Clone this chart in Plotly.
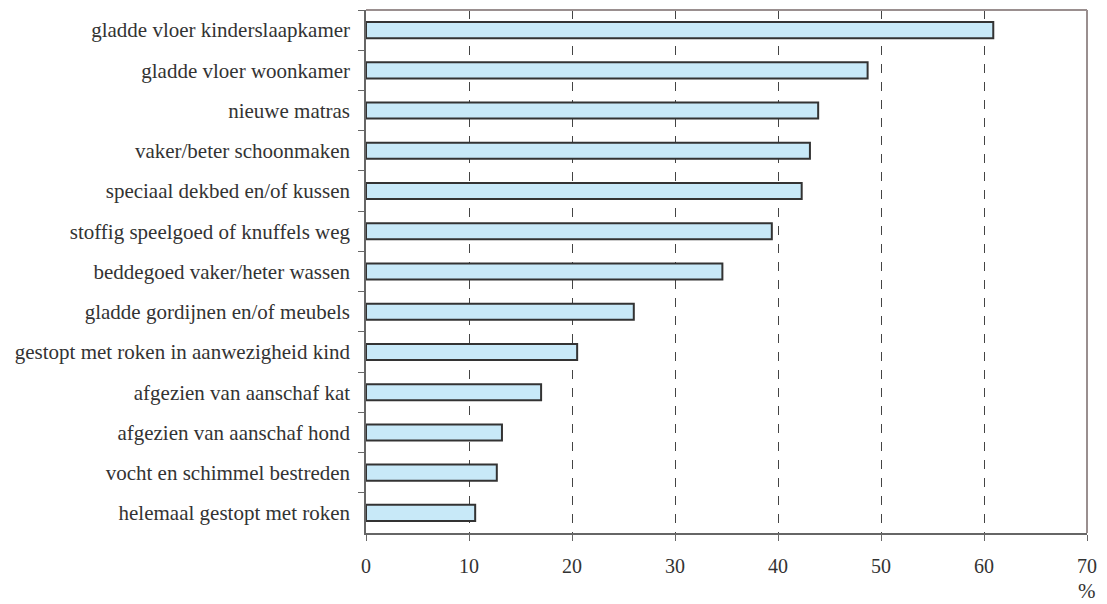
import plotly.graph_objects as go

categories = [
    "gladde vloer kinderslaapkamer",
    "gladde vloer woonkamer",
    "nieuwe matras",
    "vaker/beter schoonmaken",
    "speciaal dekbed en/of kussen",
    "stoffig speelgoed of knuffels weg",
    "beddegoed vaker/heter wassen",
    "gladde gordijnen en/of meubels",
    "gestopt met roken in aanwezigheid kind",
    "afgezien van aanschaf kat",
    "afgezien van aanschaf hond",
    "vocht en schimmel bestreden",
    "helemaal gestopt met roken",
]
values = [60.9, 48.7, 43.9, 43.1, 42.3, 39.4, 34.6, 26.0, 20.5, 17.0, 13.2, 12.7, 10.6]
x_ticks = [0, 10, 20, 30, 40, 50, 60, 70]
x_unit = "%"

FONT = "'Times New Roman', 'Liberation Serif', serif"
TXT = "#333333"

fig = go.Figure()
fig.add_trace(go.Bar(
    x=values,
    y=categories,
    orientation="h",
    marker=dict(color="#C8E9F8", line=dict(color="#333333", width=2)),
    hoverinfo="x+y",
))

fig.update_layout(
    width=1107,
    height=604,
    margin=dict(l=366, r=12, t=10, b=71),
    paper_bgcolor="white",
    plot_bgcolor="white",
    bargap=0.6,
    showlegend=False,
    font=dict(family=FONT, size=21, color=TXT),
    xaxis=dict(
        range=[0, 70],
        tickvals=x_ticks,
        ticktext=[str(v) for v in x_ticks],
        showgrid=True,
        gridcolor="#444444",
        gridwidth=1,
        griddash="dash",
        zeroline=False,
        showline=True,
        linecolor="#666666",
        linewidth=1.5,
        ticks="outside",
        ticklen=6,
        tickcolor="#666666",
        ticklabelstandoff=8,
        tickfont=dict(family=FONT, size=20, color=TXT),
    ),
    yaxis=dict(
        categoryorder="array",
        categoryarray=categories,
        autorange="reversed",
        showgrid=False,
        zeroline=False,
        showline=True,
        linecolor="#666666",
        linewidth=1.5,
        ticks="outside",
        ticklen=6,
        tickcolor="#666666",
        tickson="boundaries",
        ticklabelstandoff=10,
        tickfont=dict(family=FONT, size=21, color=TXT),
    ),
    shapes=[
        dict(type="line", xref="paper", yref="paper", x0=0, x1=1, y0=1, y1=1,
             line=dict(color="#9A8F8F", width=2)),
        dict(type="line", xref="paper", yref="paper", x0=1, x1=1, y0=0, y1=1,
             line=dict(color="#9A8F8F", width=2)),
    ],
    annotations=[
        dict(text=x_unit, xref="paper", yref="paper", x=1, y=0, yshift=-58,
             xanchor="center", yanchor="middle", showarrow=False,
             font=dict(family=FONT, size=21, color=TXT)),
    ],
)

fig.write_html(
    "out.html",
    config={"displayModeBar": False},
    post_script="document.body.style.margin='0';document.body.style.overflow='hidden';",
)
